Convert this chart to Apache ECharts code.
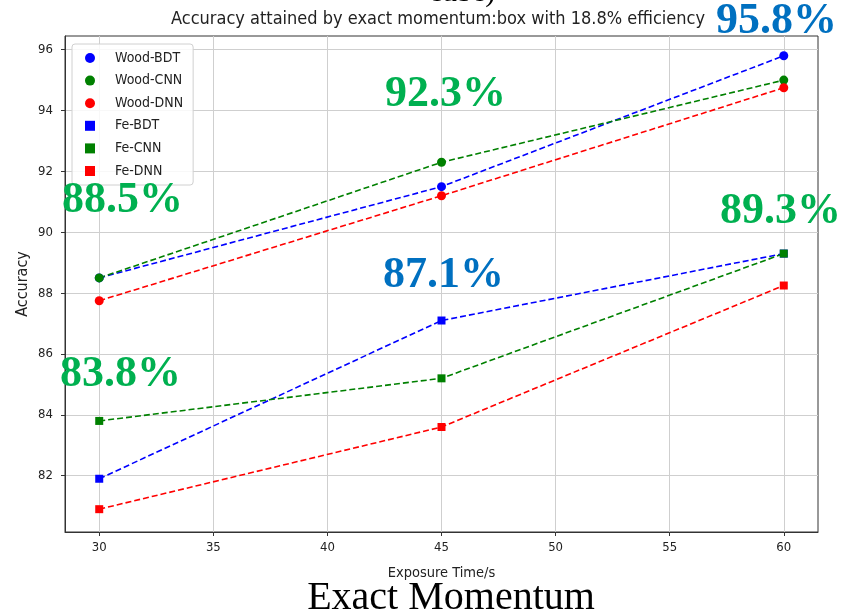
<!DOCTYPE html>
<html>
<head>
<meta charset="utf-8">
<script src="https://cdn.jsdelivr.net/npm/echarts@6/dist/echarts.min.js"></script>
<style>
  html, body { margin: 0; padding: 0; background: #fff; }
  #chart { width: 846px; height: 613px; }
</style>
</head>
<body>
<div id="chart"></div>
<script>
// Exposure times (s) and accuracy (%) per detector / classifier
const exposureTimes = [30, 45, 60];
const woodBDT = [88.5, 91.5, 95.8];
const woodCNN = [88.5, 92.3, 95.0];
const woodDNN = [87.75, 91.2, 94.75];
const feBDT = [81.9, 87.1, 89.3];
const feCNN = [83.8, 85.2, 89.3];
const feDNN = [80.9, 83.6, 88.25];

const xTicks = [30, 35, 40, 45, 50, 55, 60];
const yTicks = [82, 84, 86, 88, 90, 92, 94, 96];

const SANS = '"DejaVu Sans Condensed", "DejaVu Sans", sans-serif';
const SERIF = '"Liberation Serif", "Times New Roman", serif';

const seriesDefs = [
  { name: 'Wood-BDT', data: woodBDT, color: '#0000ff', symbol: 'circle' },
  { name: 'Wood-CNN', data: woodCNN, color: '#008000', symbol: 'circle' },
  { name: 'Wood-DNN', data: woodDNN, color: '#ff0000', symbol: 'circle' },
  { name: 'Fe-BDT', data: feBDT, color: '#0000ff', symbol: 'rect' },
  { name: 'Fe-CNN', data: feCNN, color: '#008000', symbol: 'rect' },
  { name: 'Fe-DNN', data: feDNN, color: '#ff0000', symbol: 'rect' }
];

// Highlighted accuracy call-outs: value taken from the series it refers to
const callouts = [
  { value: woodBDT[2], color: '#0070c0', x: 716, y: 0 },
  { value: woodCNN[1], color: '#00b050', x: 385, y: 73 },
  { value: woodBDT[0], color: '#00b050', x: 62, y: 179 },
  { value: feBDT[1], color: '#0070c0', x: 383, y: 254 },
  { value: feCNN[2], color: '#00b050', x: 720, y: 190 },
  { value: feCNN[0], color: '#00b050', x: 60, y: 353 }
];

const chart = echarts.init(document.getElementById('chart'));

const option = {
  animation: false,
  backgroundColor: '#fff',
  grid: {
    left: 65, right: 28, top: 36, bottom: 81,
    outerBoundsMode: 'none',
    show: true, borderColor: '#333', borderWidth: 1, backgroundColor: '#fff'
  },
  legend: {
    orient: 'vertical',
    left: 72, top: 44,
    padding: [7, 10, 7, 13],
    itemWidth: 10, itemHeight: 10, itemGap: 8.6,
    backgroundColor: 'rgba(255,255,255,0.85)',
    borderColor: '#d0d0d0', borderWidth: 1, borderRadius: 3,
    textStyle: { fontFamily: SANS, fontSize: 14, color: '#222', lineHeight: 14, padding: [0, 0, 0, 15] },
    data: seriesDefs.map(s => ({ name: s.name, icon: s.symbol === 'circle' ? 'circle' : 'rect' }))
  },
  xAxis: {
    type: 'value',
    min: 28.5, max: 61.5,
    name: 'Exposure Time/s',
    nameLocation: 'middle', nameGap: 34,
    nameTextStyle: { fontFamily: SANS, fontSize: 14.5, color: '#222' },
    axisLine: { show: true, lineStyle: { color: '#333' } },
    axisTick: { show: true, length: 4, customValues: xTicks, lineStyle: { color: '#333' } },
    axisLabel: { customValues: xTicks, fontFamily: SANS, fontSize: 13, color: '#222', margin: 9 },
    splitLine: { show: true, lineStyle: { color: '#cfcfcf', width: 1 } }
  },
  yAxis: {
    type: 'value',
    min: 80.15, max: 96.45,
    name: 'Accuracy',
    nameLocation: 'middle', nameGap: 34, nameMoveOverlap: false,
    nameTextStyle: { fontFamily: SANS, fontSize: 16, color: '#222' },
    axisLine: { show: true, lineStyle: { color: '#333' } },
    axisTick: { show: true, length: 4, customValues: yTicks, lineStyle: { color: '#333' } },
    axisLabel: { customValues: yTicks, fontFamily: SANS, fontSize: 13, color: '#222', margin: 12 },
    splitLine: { show: true, lineStyle: { color: '#cfcfcf', width: 1 } }
  },
  series: seriesDefs.map(s => ({
    name: s.name,
    type: 'line',
    data: exposureTimes.map((t, i) => [t, s.data[i]]),
    symbol: s.symbol,
    symbolSize: s.symbol === 'circle' ? 9 : 8,
    itemStyle: { color: s.color },
    lineStyle: { color: s.color, width: 1.6, type: [6, 3] },
    z: 3
  })),
  graphic: [
    {
      type: 'text',
      x: 438, y: 10,
      style: {
        text: 'Accuracy attained by exact momentum:box with 18.8% efficiency',
        font: '18px ' + SANS, fill: '#222', textAlign: 'center'
      }
    },
    {
      type: 'text',
      x: 462, y: -22,
      style: { text: 'cube)', font: '30px ' + SERIF, fill: '#000', textAlign: 'center' }
    },
    {
      type: 'text',
      x: 451, y: 578,
      style: { text: 'Exact Momentum', font: '40px ' + SERIF, fill: '#000', textAlign: 'center' }
    }
  ].concat(callouts.map(c => ({
    type: 'text',
    x: c.x, y: c.y,
    z: 10,
    style: { text: c.value.toFixed(1) + '%', font: 'bold 44px ' + SERIF, fill: c.color }
  })))
};

chart.setOption(option);
</script>
</body>
</html>
